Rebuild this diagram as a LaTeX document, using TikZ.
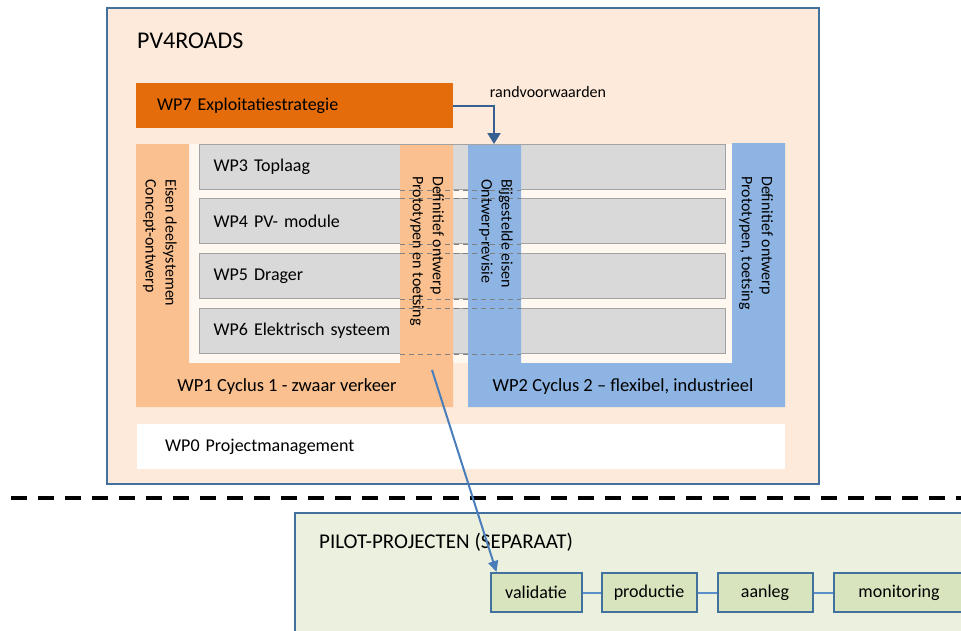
\documentclass[tikz,border=0pt]{standalone}
\usepackage{fontspec}
\setmainfont{Carlito}
\usetikzlibrary{arrows.meta}
\usetikzlibrary{positioning,calc}

\definecolor{peach}{HTML}{FDEADA}
\definecolor{frameblue}{HTML}{41719C}
\definecolor{wporange}{HTML}{E46C0A}
\definecolor{lightorange}{HTML}{FAC090}
\definecolor{lightblue}{HTML}{8DB4E2}
\definecolor{boxgray}{HTML}{D9D9D9}
\definecolor{edgegray}{HTML}{A3A3A3}
\definecolor{innerwhite}{HTML}{FFF8F1}
\definecolor{pilotgreen}{HTML}{EBF1DE}
\definecolor{stepgreen}{HTML}{D7E4BD}
\definecolor{linkblue}{HTML}{5B8FCB}
\definecolor{arrowblue}{HTML}{4A7EBB}
\definecolor{darkarrow}{HTML}{376092}

\begin{document}
\begin{tikzpicture}[x=1pt,y=-1pt,
      frame/.style = {draw=frameblue,line width=2.2pt,anchor=north west,inner sep=0pt},
      wpbox/.style = {draw=edgegray,fill=boxgray,line width=1.2pt,anchor=north west,
         minimum height=45pt,text width=498pt,inner xsep=14pt,inner ysep=0pt,
         align=left,font=\fontsize{18}{21}\selectfont},
      sidetext/.style = {rotate=-90,anchor=west,inner sep=0pt,align=left,
         font=\fontsize{16}{20}\selectfont},
      cyclabel/.style = {inner sep=0pt,font=\fontsize{18.5}{22}\selectfont},
      stepbox/.style = {draw=frameblue,line width=2pt,fill=stepgreen,inner sep=0pt,
         minimum height=39pt,font=\fontsize{18}{21}\selectfont},
      sepline/.style = {draw=gray,line width=0.9pt,dash pattern=on 5pt off 4pt},
      link/.style = {draw=linkblue,line width=2pt}
]
   \clip (0,0) rectangle (961,630);

   % PV4ROADS
   \node (pv) [frame,fill=peach,minimum width=712pt,minimum height=476pt] at (106,7) {};
   \node (pvtitle) [anchor=west,inner sep=0pt,font=\fontsize{24}{28}\selectfont] at (137,41) {PV4ROADS};

   \node (wp7) [anchor=north west,fill=wporange,minimum width=317pt,minimum height=45pt,
      text width=275pt,inner xsep=21pt,inner ysep=0pt,align=left,
      font=\fontsize{18}{21}\selectfont] at (136,83) {WP7 Exploitatiestrategie};
   \node (rand) [inner sep=0pt,font=\fontsize{16}{19}\selectfont] at (548,92) {randvoorwaarden};

   \fill[innerwhite] (189,144) rectangle (732,363);

   \node (wp3) [wpbox] at (199,144) {WP3 Toplaag};
   \node (wp4) [wpbox] at (199,198) {WP4 PV- module};
   \node (wp5) [wpbox] at (199,253) {WP5 Drager};
   \node (wp6) [wpbox] at (199,308) {WP6 Elektrisch systeem};

   % cycli
   \fill[lightorange] (136,144) -- (189,144) -- (189,363) -- (400,363) -- (400,145)
      -- (453,145) -- (453,407) -- (136,407) -- cycle;
   \fill[lightblue] (468,145) -- (521,145) -- (521,363) -- (732,363) -- (732,143)
      -- (785,143) -- (785,407) -- (468,407) -- cycle;

   \coordinate (c1l) at (400,0);
   \coordinate (c2r) at (521,0);
   \foreach \b in {wp4,wp5,wp6}
      \draw[sepline] (\b.north west -| c1l) -- (\b.north west -| c2r);
   \foreach \b in {wp3,wp4,wp5,wp6}
      \draw[sepline] (\b.south west -| c1l) -- (\b.south west -| c2r);

   \node (eisen) [sidetext] at (160,179) {Eisen deelsystemen\\Concept-ontwerp};
   \node (def1) [sidetext] at (427,176) {Definitief ontwerp\\Prototypen en toetsing};
   \node (bijg) [sidetext] at (496,179) {Bijgestelde eisen\\Ontwerp-revisie};
   \node (def2) [sidetext] at (756,176) {Definitief ontwerp\\Prototypen, toetsing};

   \node (c1lab) [cyclabel] at (287,387) {WP1 Cyclus 1 - zwaar verkeer};
   \node (c2lab) [cyclabel] at (623,387) {WP2 Cyclus 2 – flexibel, industrieel};

   \node (wp0) [anchor=north west,fill=white,minimum width=648pt,minimum height=45pt,
      text width=592pt,inner xsep=28pt,inner ysep=0pt,align=left,
      font=\fontsize{18}{21}\selectfont] at (137,424) {WP0 Projectmanagement};

   \coordinate (c2top) at (494,144);
   \draw[darkarrow,line width=2pt,-{Triangle[length=11pt,width=13pt]}] (wp7.east) -| (c2top);

   % grens
   \draw[line width=4pt,dash pattern=on 16pt off 11pt] (11,498) -- (961,498);

   % pilots
   \node (pilot) [frame,fill=pilotgreen,minimum width=700pt,minimum height=140pt] at (294,512) {};
   \node (piltitle) [anchor=west,inner sep=0pt,font=\fontsize{21}{25}\selectfont] at (319,542) {PILOT-PROJECTEN (SEPARAAT)};

   \node (val) [stepbox,minimum width=91pt] at (536,592.5) {validatie};
   \node (prod) [stepbox,minimum width=95pt,right=18pt of val] {productie};
   \node (aanl) [stepbox,minimum width=95pt,right=19pt of prod] {aanleg};
   \node (moni) [stepbox,minimum width=131pt,right=19pt of aanl] {monitoring};
   \draw[link] (val) -- (prod);
   \draw[link] (prod) -- (aanl);
   \draw[link] (aanl) -- (moni);

   \coordinate (c1out) at (432,370);
   \draw[arrowblue,line width=2pt,-{Triangle[length=11pt,width=10pt]}] (c1out) -- ($(val.north west)+(7,0)$);
\end{tikzpicture}
\end{document}
